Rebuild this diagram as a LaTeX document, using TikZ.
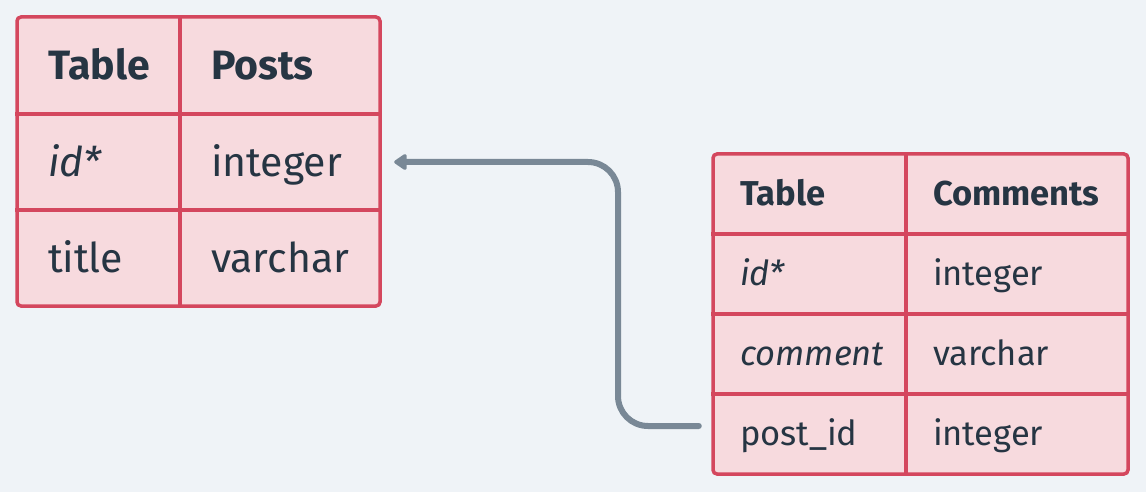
\documentclass[tikz,border=0pt]{standalone}
\usepackage{fontspec}
\setmainfont{Fira Sans}
\usetikzlibrary{arrows.meta}
\definecolor{bgc}{HTML}{EFF3F7}
\definecolor{cellfill}{HTML}{F7DADE}
\definecolor{cellline}{HTML}{D4475E}
\definecolor{txt}{HTML}{263543}
\definecolor{connc}{HTML}{798896}
\tikzset{
  tbl/.style={draw=cellline, fill=cellfill, line width=3.5pt, rounded corners=4pt, inner sep=0pt},
  divider/.style={draw=cellline, line width=3.5pt},
  pcell/.style={draw=none, inner ysep=0pt, inner xsep=31pt, text=txt, align=left,
     font=\fontsize{41}{48}\selectfont, text height=28pt, text depth=0pt, minimum height=96pt},
  ccell/.style={draw=none, inner ysep=0pt, inner xsep=27pt, text=txt, align=left,
     font=\fontsize{34.5}{40}\selectfont, text height=23.5pt, text depth=0pt, minimum height=80pt},
  conn/.style={draw=connc, line width=6pt, line cap=round, rounded corners=30pt,
     -{Triangle[length=14pt,width=18pt,round]}}
}
\begin{document}
\begin{tikzpicture}[x=1pt,y=-1pt]
\fill[bgc] (0,0) rectangle (1146,492);
\useasboundingbox (0,0) rectangle (1146,492);
% Posts table
\node[tbl, minimum width=363pt, minimum height=289pt] (posts) at (198.5,161.5) {};
\node[pcell, text width=101pt] (p11) at (98.5,65.5) {\textbf{Table}};
\node[pcell, text width=138pt] (p12) at (280,65.5) {\textbf{Posts}};
\node[pcell, text width=101pt] (p21) at (98.5,162) {\textit{id*}};
\node[pcell, text width=138pt] (p22) at (280,162) {integer};
\node[pcell, text width=101pt] (p31) at (98.5,258) {title};
\node[pcell, text width=138pt] (p32) at (280,258) {varchar};
\draw[divider] (posts.north -| p11.east) -- (posts.south -| p11.east);
\draw[divider] (posts.west |- 0,114) -- (posts.east |- 0,114);
\draw[divider] (posts.west |- 0,210) -- (posts.east |- 0,210);
% Comments table
\node[tbl, minimum width=415pt, minimum height=320pt] (comments) at (920.5,314) {};
\node[ccell, text width=139pt] (c11) at (809.5,194) {\textbf{Table}};
\node[ccell, text width=168pt] (c12) at (1017,194) {\textbf{Comments}};
\node[ccell, text width=139pt] (c21) at (809.5,274) {\textit{id*}};
\node[ccell, text width=168pt] (c22) at (1017,274) {integer};
\node[ccell, text width=139pt] (c31) at (809.5,354) {\textit{comment}};
\node[ccell, text width=168pt] (c32) at (1017,354) {varchar};
\node[ccell, text width=139pt] (c41) at (809.5,434) {post\_id};
\node[ccell, text width=168pt] (c42) at (1017,434) {integer};
\draw[divider] (comments.north -| c11.east) -- (comments.south -| c11.east);
\draw[divider] (comments.west |- 0,234) -- (comments.east |- 0,234);
\draw[divider] (comments.west |- 0,314) -- (comments.east |- 0,314);
\draw[divider] (comments.west |- 0,394) -- (comments.east |- 0,394);
% connector
\coordinate (bend) at (618,300);
\draw[conn] ([xshift=-14pt,yshift=8pt]c41.west) -| (bend) |- ([xshift=14pt]p22.east);
\end{tikzpicture}
\end{document}
